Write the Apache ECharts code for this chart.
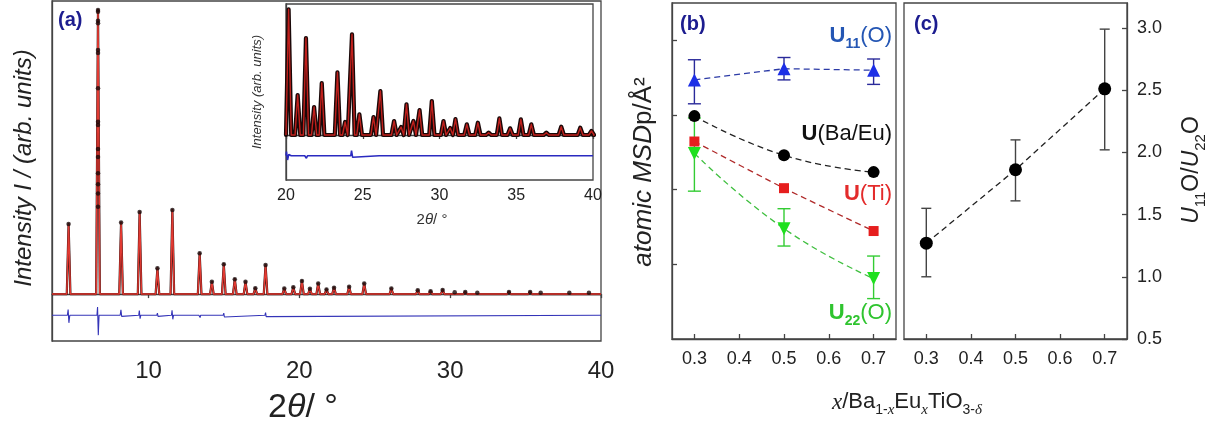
<!DOCTYPE html>
<html><head><meta charset="utf-8">
<script src="https://cdn.jsdelivr.net/npm/echarts@6/dist/echarts.min.js"></script>
<style>html,body{margin:0;padding:0;background:#fff}#c{width:1222px;height:438px}</style>
</head><body><div id="c"></div>
<script>
// ---------- Panel (a): main powder pattern (2theta in deg, intensity arb.) ----------
const mainPeakPos = [4.70, 6.65, 8.18, 9.41, 10.59, 11.58, 13.39, 14.20, 14.99, 15.72, 16.43, 17.08, 17.76, 19.00, 19.60, 20.17, 20.70, 21.25, 21.80, 22.30, 23.30, 24.30, 26.10, 27.85, 28.70, 29.50, 30.30, 31.00, 31.80, 33.90, 35.30, 36.00, 37.90, 39.20];
const mainPeakInt = [23.9, 96.9, 24.4, 28.0, 8.8, 28.7, 13.9, 4.2, 10.2, 5.1, 4.2, 2.0, 9.9, 1.9, 2.3, 4.5, 1.8, 3.6, 1.6, 2.2, 2.5, 3.6, 1.9, 1.3, 1.0, 1.4, 0.6, 0.7, 0.5, 0.7, 0.7, 0.5, 0.5, 0.5];
// observed points read on the flank of the strongest reflection
const mainFlankX = 6.65;
const mainFlankY = [96.3, 93.3, 92.4, 83.3, 82.3, 70.2, 58.8, 57.7, 49.5, 46.8, 41.2, 37.5, 34.3, 29.8];
const mainDiff = [
  [3.6,-7.2],[4.62,-7.2],[4.67,-5.3],[4.72,-9.8],[4.78,-7.2],
  [6.58,-7.2],[6.62,-4.4],[6.67,-14.0],[6.72,-7.2],
  [8.12,-7.2],[8.17,-5.4],[8.22,-7.6],[8.27,-7.2],
  [9.35,-7.2],[9.39,-5.6],[9.44,-8.4],[9.49,-7.2],
  [10.55,-7.2],[10.59,-6.5],[10.63,-7.6],[10.67,-7.2],
  [11.52,-7.2],[11.56,-5.5],[11.61,-8.6],[11.66,-7.2],
  [13.34,-7.2],[13.38,-6.6],[13.42,-8.0],[13.46,-7.2],
  [14.95,-7.2],[14.99,-6.5],[15.03,-7.8],[15.07,-7.2],
  [17.72,-7.2],[17.76,-6.3],[17.80,-7.7],[17.84,-7.2],
  [40,-7.2]
];
const mainXTicks = [10, 20, 30, 40];

// ---------- Inset: 20-40 deg ----------
const insetPeakPos = [20.17, 20.76, 21.30, 21.83, 22.33, 23.35, 23.85, 24.30, 24.78, 25.70, 26.15, 27.04, 27.50, 27.85, 28.30, 28.70, 29.50, 30.26, 30.70, 31.04, 31.78, 32.50, 33.20, 33.90, 34.60, 35.30, 35.98, 36.96, 37.93, 39.17, 39.90];
const insetPeakInt = [125.7, 40, 97, 28, 52, 62.7, 13, 100.7, 20.7, 18, 44, 14, 8, 30.7, 14, 25, 34, 14, 7, 16, 10.7, 12.3, 2.3, 16.7, 6.7, 15.7, 10.7, 2.3, 8.3, 7.3, 4];
const insetDiff = [
  [20,-20.5],[20.03,-16.5],[20.1,-25],[20.18,-19.5],[20.26,-21.3],[20.34,-20.7],
  [20.7,-20.7],[20.75,-19.8],[20.8,-21.6],[20.86,-20.7],
  [21.22,-20.7],[21.27,-19],[21.33,-23.3],[21.4,-20.7],
  [21.77,-20.7],[21.81,-19.9],[21.86,-21.5],[21.91,-20.7],
  [22.25,-20.7],[22.3,-18.8],[22.36,-22.5],[22.43,-20.7],
  [23.27,-20.7],[23.32,-18.8],[23.38,-22.5],[23.45,-20.7],
  [24.22,-20.7],[24.27,-15.7],[24.34,-22.3],[24.42,-20.7],
  [26.07,-20.7],[26.12,-19.8],[26.2,-21.6],[26.27,-20.7],
  [27.8,-20.7],[27.84,-19.8],[27.9,-21.5],[27.95,-20.7],
  [29.45,-20.7],[29.49,-19.6],[29.55,-21.7],[29.62,-20.7],
  [33.85,-20.7],[33.9,-19.8],[33.96,-21.3],[34.02,-20.7],
  [35.25,-20.7],[35.3,-19.6],[35.36,-21.3],[35.42,-20.7],
  [40,-20.7]
];
const insetXTicks = [20, 25, 30, 35, 40];

// ---------- Panel (b): atomic MSD vs x ----------
const xVals = [0.3, 0.5, 0.7];
const u11 = [3.47, 3.62, 3.60];
const u11Lo = [3.15, 3.47, 3.41];
const u11Hi = [3.74, 3.77, 3.75];
const uBaEu = [2.985, 2.46, 2.235];
const uTi = [2.645, 2.02, 1.446];
const u22 = [2.486, 1.478, 0.809];
const u22Lo = [1.98, 1.245, 0.541];
const u22Hi = [2.96, 1.745, 1.111];
const bYTicks = [1, 2, 3, 4];
const xTicks = [0.3, 0.4, 0.5, 0.6, 0.7];

// ---------- Panel (c): U11(O)/U22(O) ----------
const ratio = [1.27, 1.86, 2.51];
const ratioLo = [1.0, 1.61, 2.02];
const ratioHi = [1.55, 2.10, 2.99];
const cYTicks = [0.5, 1.0, 1.5, 2.0, 2.5, 3.0];

// ---------- helpers ----------
function profile(pos, inten, hw, xmin, xmax) {
  const pts = [[xmin, 0]];
  for (let i = 0; i < pos.length; i++) {
    pts.push([pos[i] - hw, 0], [pos[i], inten[i]], [pos[i] + hw, 0]);
  }
  pts.push([xmax, 0]);
  return pts;
}
function tops(pos, inten) { return pos.map((p, i) => [p, inten[i]]); }
function pairs(xs, ys) { return xs.map((x, i) => [x, ys[i]]); }
function triples(xs, lo, hi) { return xs.map((x, i) => [x, lo[i], hi[i]]); }
function errRender(capW, color, lw) {
  return function (params, api) {
    const x = api.value(0), lo = api.value(1), hi = api.value(2);
    const a = api.coord([x, lo]), b = api.coord([x, hi]);
    const st = { stroke: color, lineWidth: lw };
    return { type: 'group', children: [
      { type: 'line', shape: { x1: a[0], y1: a[1], x2: b[0], y2: b[1] }, style: st },
      { type: 'line', shape: { x1: a[0] - capW / 2, y1: a[1], x2: a[0] + capW / 2, y2: a[1] }, style: st },
      { type: 'line', shape: { x1: b[0] - capW / 2, y1: b[1], x2: b[0] + capW / 2, y2: b[1] }, style: st }
    ]};
  };
}
const SANS = 'Liberation Sans, Arial, sans-serif';
const SERIF = 'Liberation Serif, Times New Roman, serif';
const FRAME = '#444';
const axLine = { show: true, lineStyle: { color: FRAME, width: 1.3 } };

function subRich(fs, color, bold) {
  const w = bold ? 'bold' : 'normal';
  const sfs = Math.round(fs * 0.64);
  return {
    u: { fontSize: fs, fontWeight: 'bold', fontFamily: SANS, fill: color, lineHeight: fs + 4, verticalAlign: 'top' },
    ui: { fontSize: fs, fontStyle: 'italic', fontFamily: SANS, fill: color, lineHeight: fs + 4, verticalAlign: 'top' },
    n: { fontSize: fs, fontFamily: SANS, fill: color, lineHeight: fs + 4, verticalAlign: 'top' },
    i: { fontSize: fs, fontStyle: 'italic', fontFamily: SANS, fill: color, lineHeight: fs + 4, verticalAlign: 'top' },
    xi: { fontSize: fs + 1, fontStyle: 'italic', fontFamily: SERIF, fill: color, lineHeight: fs + 4, verticalAlign: 'top' },
    s: { fontSize: sfs, fontWeight: w, fontFamily: SANS, fill: color, lineHeight: sfs + 2, verticalAlign: 'top', padding: [Math.round(fs * 0.55), 0, 0, 0] },
    si: { fontSize: sfs + 1, fontStyle: 'italic', fontFamily: SERIF, fill: color, lineHeight: sfs + 2, verticalAlign: 'top', padding: [Math.round(fs * 0.55), 0, 0, 0] }
  };
}
function txt(x, y, text, rich, opts) {
  opts = opts || {};
  return {
    type: 'text', x: x, y: y, rotation: opts.rot || 0, z: 100,
    style: {
      text: text, rich: rich,
      fontSize: opts.fs || 20, fontFamily: SANS, fontWeight: opts.fw || 'normal', fontStyle: opts.fst || 'normal',
      fill: opts.color || '#111',
      align: opts.align || 'center', textAlign: opts.align || 'center',
      verticalAlign: 'middle', textVerticalAlign: 'middle'
    }
  };
}

const chart = echarts.init(document.getElementById('c'), null, { renderer: 'canvas' });
const option = {
  animation: false,
  backgroundColor: '#fff',
  grid: [
    { left: 52, top: 1, width: 549, height: 340, show: true, borderColor: FRAME, borderWidth: 1.3, containLabel: false },
    { left: 286, top: 4, width: 307, height: 176, show: true, borderColor: FRAME, borderWidth: 1.3, backgroundColor: '#fff', containLabel: false },
    { left: 672, top: 3, width: 224, height: 336, show: true, borderColor: FRAME, borderWidth: 1.3, containLabel: false },
    { left: 904, top: 3, width: 223, height: 336, show: true, borderColor: FRAME, borderWidth: 1.3, containLabel: false }
  ],
  xAxis: [
    { gridIndex: 0, type: 'value', min: 3.6, max: 40, axisLine: axLine, splitLine: { show: false },
      axisTick: { show: true, inside: false, length: 4, customValues: mainXTicks, lineStyle: { color: FRAME, width: 1.3 } },
      axisLabel: { customValues: mainXTicks, fontSize: 24, color: '#222', margin: 18, fontFamily: SANS } },
    { gridIndex: 1, type: 'value', min: 20, max: 40, axisLine: axLine, splitLine: { show: false },
      axisTick: { show: true, inside: false, length: 4, customValues: insetXTicks, lineStyle: { color: FRAME, width: 1.3 } },
      axisLabel: { customValues: insetXTicks, fontSize: 16, color: '#222', margin: 8, fontFamily: SANS } },
    { gridIndex: 2, type: 'value', min: 0.25, max: 0.75, axisLine: axLine, splitLine: { show: false },
      axisTick: { show: true, inside: true, length: 5, customValues: xTicks, lineStyle: { color: FRAME, width: 1.3 } },
      axisLabel: { customValues: xTicks, fontSize: 18, color: '#222', margin: 11, fontFamily: SANS, formatter: v => v.toFixed(1) } },
    { gridIndex: 3, type: 'value', min: 0.25, max: 0.75, axisLine: axLine, splitLine: { show: false },
      axisTick: { show: true, inside: true, length: 5, customValues: xTicks, lineStyle: { color: FRAME, width: 1.3 } },
      axisLabel: { customValues: xTicks, fontSize: 18, color: '#222', margin: 11, fontFamily: SANS, formatter: v => v.toFixed(1) } }
  ],
  yAxis: [
    { gridIndex: 0, type: 'value', min: -16, max: 100, axisLine: axLine, axisTick: { show: false }, axisLabel: { show: false }, splitLine: { show: false } },
    { gridIndex: 1, type: 'value', min: -45, max: 131, axisLine: axLine, axisTick: { show: false }, axisLabel: { show: false }, splitLine: { show: false } },
    { gridIndex: 2, type: 'value', min: 0, max: 4.5, axisLine: axLine, splitLine: { show: false },
      axisTick: { show: true, inside: true, length: 5, customValues: bYTicks, lineStyle: { color: FRAME, width: 1.3 } },
      axisLabel: { show: false } },
    { gridIndex: 3, type: 'value', min: 0.5, max: 3.2, position: 'right', axisLine: axLine, splitLine: { show: false },
      axisTick: { show: true, inside: true, length: 5, customValues: cYTicks, lineStyle: { color: FRAME, width: 1.3 } },
      axisLabel: { customValues: cYTicks, fontSize: 18, color: '#222', margin: 10, fontFamily: SANS, formatter: v => v.toFixed(1) } }
  ],
  series: [
    // main pattern
    { type: 'line', xAxisIndex: 0, yAxisIndex: 0, data: profile(mainPeakPos, mainPeakInt, 0.12, 3.6, 40), showSymbol: false, symbol: 'none',
      lineStyle: { color: '#2a0c0c', width: 2.2, join: 'round' }, z: 2 },
    { type: 'line', xAxisIndex: 0, yAxisIndex: 0, data: profile(mainPeakPos, mainPeakInt, 0.12, 3.6, 40), showSymbol: false, symbol: 'none',
      lineStyle: { color: '#e23a32', width: 1.5, join: 'round' }, z: 3 },
    { type: 'scatter', xAxisIndex: 0, yAxisIndex: 0, data: tops(mainPeakPos, mainPeakInt).concat(mainFlankY.map(y => [mainFlankX, y])),
      symbol: 'circle', symbolSize: 4.5, itemStyle: { color: '#1a0a0a' }, z: 4 },
    { type: 'line', xAxisIndex: 0, yAxisIndex: 0, data: mainDiff, showSymbol: false, symbol: 'none',
      lineStyle: { color: '#3434b8', width: 1.1 }, z: 2 },
    // inset
    { type: 'line', xAxisIndex: 1, yAxisIndex: 1, data: profile(insetPeakPos, insetPeakInt, 0.17, 20, 40), showSymbol: false, symbol: 'none',
      lineStyle: { color: '#1a0808', width: 4.2, join: 'round', cap: 'round' }, z: 5 },
    { type: 'line', xAxisIndex: 1, yAxisIndex: 1, data: profile(insetPeakPos, insetPeakInt, 0.17, 20, 40), showSymbol: false, symbol: 'none',
      lineStyle: { color: '#c0201c', width: 1.4, join: 'round' }, z: 6 },
    { type: 'line', xAxisIndex: 1, yAxisIndex: 1, data: insetDiff, showSymbol: false, symbol: 'none',
      lineStyle: { color: '#2a2ac0', width: 1.6 }, z: 5 },
    // panel (b) error bars
    { type: 'custom', xAxisIndex: 2, yAxisIndex: 2, data: triples(xVals, u11Lo, u11Hi), renderItem: errRender(13, '#2a2a9a', 1.4), z: 2 },
    { type: 'custom', xAxisIndex: 2, yAxisIndex: 2, data: triples(xVals, u22Lo, u22Hi), renderItem: errRender(13, '#33cc33', 1.4), z: 2 },
    // panel (b) lines
    { type: 'line', xAxisIndex: 2, yAxisIndex: 2, data: pairs(xVals, u11), smooth: false, symbol: 'triangle', symbolSize: 13,
      itemStyle: { color: '#1d2fe6' }, lineStyle: { color: '#2b3aa6', width: 1.3, type: [6, 4] }, z: 4 },
    { type: 'line', xAxisIndex: 2, yAxisIndex: 2, data: pairs(xVals, uBaEu), smooth: 0.5, symbol: 'circle', symbolSize: 12,
      itemStyle: { color: '#000' }, lineStyle: { color: '#222', width: 1.3, type: [6, 4] }, z: 4 },
    { type: 'line', xAxisIndex: 2, yAxisIndex: 2, data: pairs(xVals, uTi), smooth: 0.15, symbol: 'rect', symbolSize: 10,
      itemStyle: { color: '#e61e1e' }, lineStyle: { color: '#b02a2a', width: 1.3, type: [6, 4] }, z: 4 },
    { type: 'line', xAxisIndex: 2, yAxisIndex: 2, data: pairs(xVals, u22), smooth: 0.5, symbol: 'triangle', symbolRotate: 180, symbolSize: 13,
      itemStyle: { color: '#1fe01f' }, lineStyle: { color: '#3fbf3f', width: 1.3, type: [6, 4] }, z: 4 },
    // panel (c)
    { type: 'custom', xAxisIndex: 3, yAxisIndex: 3, data: triples(xVals, ratioLo, ratioHi), renderItem: errRender(10, '#444', 1.4), z: 2 },
    { type: 'line', xAxisIndex: 3, yAxisIndex: 3, data: pairs(xVals, ratio), symbol: 'circle', symbolSize: 13,
      itemStyle: { color: '#000' }, lineStyle: { color: '#222', width: 1.3, type: [6, 4] }, z: 4 }
  ],
  graphic: [
    txt(58, 20, '(a)', null, { fs: 20, fw: 'bold', color: '#1c1c8f', align: 'left' }),
    txt(680, 24, '(b)', null, { fs: 20, fw: 'bold', color: '#1c1c8f', align: 'left' }),
    txt(914, 24, '(c)', null, { fs: 20, fw: 'bold', color: '#1c1c8f', align: 'left' }),
    txt(24, 168, 'Intensity I / (arb. units)', null, { fs: 24, fst: 'italic', color: '#222', rot: Math.PI / 2 }),
    txt(303, 410, '{n|2}{i|θ}{n|/ °}', subRich(34, '#222'), {}),
    txt(257, 92, 'Intensity (arb. units)', null, { fs: 13, fst: 'italic', color: '#333', rot: Math.PI / 2 }),
    txt(432, 222, '{n|2}{i|θ}{n|/ °}', subRich(15, '#333'), {}),
    txt(646, 172, '{i|atomic MSD}{n|p/Å²}', subRich(26, '#222'), { rot: Math.PI / 2 }),
    txt(1194, 170, '{ui|U}{s|11}{n|O/}{ui|U}{s|22}{n|O}', subRich(23, '#222'), { rot: Math.PI / 2 }),
    txt(907, 404, '{xi|x}{n|/Ba}{s|1-}{si|x}{n|Eu}{si|x}{n|TiO}{s|3-}{si|δ}', subRich(22, '#222'), {}),
    txt(892, 38, '{u|U}{s|11}{n|(O)}', subRich(22, '#2456b4', true), { align: 'right' }),
    txt(892, 136, '{u|U}{n|(Ba/Eu)}', subRich(22, '#111', true), { align: 'right' }),
    txt(892, 196, '{u|U}{n|(Ti)}', subRich(22, '#e32b2b', true), { align: 'right' }),
    txt(892, 315, '{u|U}{s|22}{n|(O)}', subRich(22, '#2fc42f', true), { align: 'right' })
  ]
};
chart.setOption(option);
</script>
</body></html>
